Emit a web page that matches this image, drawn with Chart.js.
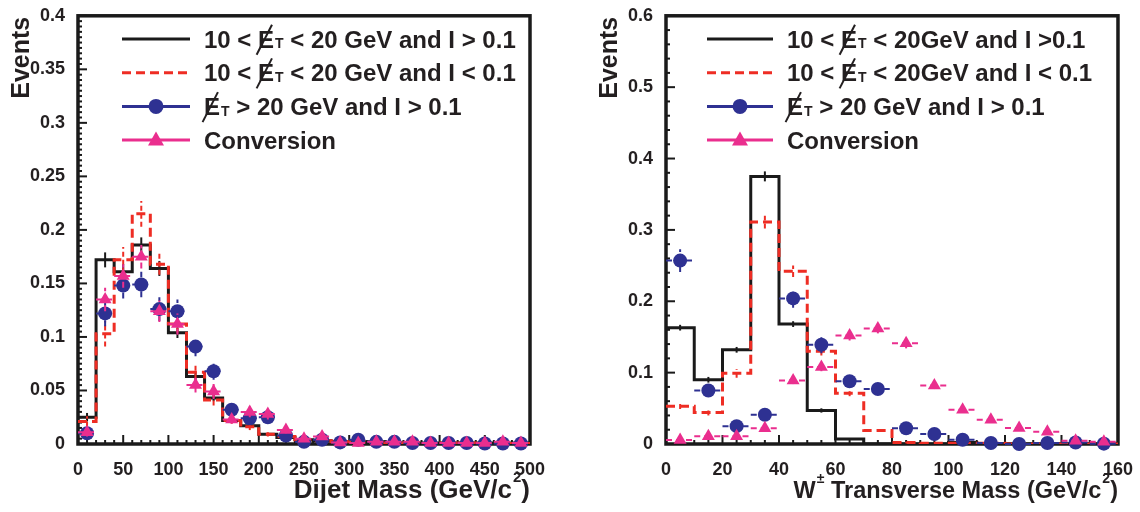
<!DOCTYPE html>
<html>
<head>
<meta charset="utf-8">
<script src="https://cdn.jsdelivr.net/npm/chart.js@4.4.1/dist/chart.umd.min.js"></script>
<style>
  body { margin: 0; background: #fff; width: 1140px; height: 512px; overflow: hidden; position: relative; }
  canvas { position: absolute; top: 0; }
  #dijetChart { left: 0; }
  #wmassChart { left: 570px; }
</style>
</head>
<body>
<canvas id="dijetChart" width="570" height="512"></canvas>
<canvas id="wmassChart" width="570" height="512"></canvas>
<script>
// ==================== DIJET MASS (20 GeV bins) ====================
const dijetEdges = [0, 20, 40, 60, 80, 100, 120, 140, 160, 180, 200, 220, 240, 260, 280, 300, 320, 340, 360, 380, 400, 420, 440, 460, 480, 500];
const dijetCenters = [10, 30, 50, 70, 90, 110, 130, 150, 170, 190, 210, 230, 250, 270, 290, 310, 330, 350, 370, 390, 410, 430, 450, 470, 490];

const dijetLowMetHiIso = [0.025, 0.172, 0.161, 0.186, 0.164, 0.104, 0.063, 0.043, 0.022, 0.017, 0.009, 0.006, 0.004, 0.003, 0.002, 0.002, 0.002, 0.001, 0.001, 0.001, 0.001, 0.001, 0.001, 0.001, 0.001];
const dijetLowMetHiIsoErr = [0.004, 0.007, 0.007, 0.007, 0.007, 0.005, 0.004, 0.003, 0.002, 0.002, 0.001, 0.001, 0.001, 0.001, 0.001, 0.001, 0.001, 0, 0, 0, 0, 0, 0, 0, 0];

const dijetLowMetLoIso = [0.021, 0.103, 0.172, 0.215, 0.168, 0.112, 0.067, 0.041, 0.022, 0.016, 0.009, 0.007, 0.004, 0.003, 0.002, 0.002, 0.001, 0.001, 0.001, 0.001, 0.001, 0.001, 0.0005, 0.0005, 0.0005];
const dijetLowMetLoIsoErr = [0.005, 0.012, 0.012, 0.012, 0.010, 0.008, 0.006, 0.005, 0.003, 0.003, 0.002, 0.002, 0.001, 0.001, 0.001, 0.001, 0.001, 0, 0, 0, 0, 0, 0, 0, 0];

const dijetHiMet = [0.010, 0.122, 0.148, 0.149, 0.126, 0.124, 0.091, 0.068, 0.032, 0.024, 0.025, 0.008, 0.002, 0.004, 0.0015, 0.004, 0.002, 0.002, 0.001, 0.001, 0.001, 0.001, 0.0005, 0.0005, 0.0005];
const dijetHiMetErr = [0.004, 0.012, 0.012, 0.012, 0.011, 0.011, 0.009, 0.008, 0.005, 0.005, 0.005, 0.003, 0.002, 0.002, 0.001, 0.002, 0.001, 0.001, 0.001, 0.001, 0.001, 0.001, 0.001, 0.001, 0.001];

const dijetConversion = [0.011, 0.135, 0.157, 0.175, 0.124, 0.112, 0.055, 0.049, 0.023, 0.030, 0.028, 0.013, 0.005, 0.007, 0.0015, 0.001, 0.002, 0.002, 0.002, 0.001, 0.001, 0.001, 0.001, 0.002, 0.001];
const dijetConversionErr = [0.004, 0.011, 0.011, 0.011, 0.010, 0.010, 0.007, 0.007, 0.004, 0.005, 0.005, 0.003, 0.002, 0.002, 0.001, 0.001, 0.001, 0.001, 0.001, 0.001, 0.001, 0.001, 0.001, 0.001, 0.001];

const dijetXTicks = [0, 50, 100, 150, 200, 250, 300, 350, 400, 450, 500];
const dijetYTicks = [0, 0.05, 0.1, 0.15, 0.2, 0.25, 0.3, 0.35, 0.4];

// ==================== W TRANSVERSE MASS (10 GeV bins) ====================
const wmEdges = [0, 10, 20, 30, 40, 50, 60, 70, 80, 90, 100, 110, 120, 130, 140, 150, 160];
const wmCenters = [5, 15, 25, 35, 45, 55, 65, 75, 85, 95, 105, 115, 125, 135, 145, 155];

const wmLowMetHiIso = [0.163, 0.090, 0.132, 0.375, 0.168, 0.047, 0.007, 0, 0, 0, 0.002, 0, 0, 0, 0, 0];
const wmLowMetHiIsoErr = [0.004, 0.004, 0.004, 0.007, 0.004, 0.003, 0.001, 0, 0, 0, 0, 0, 0, 0, 0, 0];

const wmLowMetLoIso = [0.053, 0.044, 0.099, 0.311, 0.242, 0.130, 0.071, 0.019, 0.002, 0.001, 0.001, 0.001, 0, 0, 0, 0];
const wmLowMetLoIsoErr = [0.004, 0.004, 0.006, 0.009, 0.008, 0.006, 0.004, 0.002, 0.001, 0, 0, 0, 0, 0, 0, 0];

const wmHiMet = [0.257, 0.075, 0.025, 0.041, 0.204, 0.139, 0.088, 0.077, 0.022, 0.014, 0.006, 0.0015, 0, 0.0015, 0.002, 0.0005];
const wmHiMetErr = [0.016, 0.008, 0.005, 0.006, 0.013, 0.012, 0.008, 0.007, 0.004, 0.003, 0.002, 0.001, 0.001, 0.001, 0.001, 0.001];

const wmConversion = [0.0055, 0.011, 0.011, 0.022, 0.089, 0.108, 0.152, 0.162, 0.141, 0.082, 0.048, 0.034, 0.0225, 0.017, 0.0045, 0.003];
const wmConversionErr = [0.002, 0.003, 0.003, 0.004, 0.005, 0.006, 0.007, 0.007, 0.007, 0.005, 0.004, 0.003, 0.003, 0.002, 0.002, 0.001];

const wmXTicks = [0, 20, 40, 60, 80, 100, 120, 140, 160];
const wmYTicks = [0, 0.1, 0.2, 0.3, 0.4, 0.5, 0.6];

// ==================== STYLE ====================
const FONT = '"Liberation Sans", Arial, Helvetica, sans-serif';
const INK = '#231f20';
const BLACK = '#1a1a1a';
const RED = '#ee2d24';
const BLUE = '#2e3192';
const PINK = '#ea2e8e';
const RED_DASH = [9, 5];
const LEGEND_SIZE = 24;

// histogram outline: one point per lower edge plus the closing edge
function histPoints(edges, vals) {
    return edges.map((e, i) => ({ x: e, y: vals[Math.min(i, vals.length - 1)] }));
}

function markerPoints(centers, vals) {
    return centers.map((c, i) => ({ x: c, y: vals[i] }));
}

function partFont(kind, size) {
    if (kind === 'sub') return `bold ${Math.round(size * 0.6)}px ${FONT}`;
    if (kind === 'sup') return `bold ${Math.round(size * 0.58)}px ${FONT}`;
    return `bold ${size}px ${FONT}`;
}

function richWidth(ctx, parts, size) {
    let w = 0;
    parts.forEach(([t, k]) => {
        ctx.font = partFont(k, size);
        w += ctx.measureText(t).width + (k === 'sub' || k === 'sup' ? 1 : 0);
    });
    return w;
}

// draws text made of pieces: plain, subscript, superscript, or E with a slash (missing ET)
function drawRich(ctx, x, baseY, parts, size) {
    let cx = x;
    parts.forEach(([txt, kind]) => {
        ctx.font = partFont(kind, size);
        if (kind === 'sub') {
            ctx.fillText(txt, cx + 1, baseY + size * 0.04);
            cx += ctx.measureText(txt).width + 1;
        } else if (kind === 'sup') {
            ctx.fillText(txt, cx + 1, baseY - size * 0.62);
            cx += ctx.measureText(txt).width + 1;
        } else {
            ctx.fillText(txt, cx, baseY);
            const w = ctx.measureText(txt).width;
            if (kind === 'met') {
                ctx.save();
                ctx.strokeStyle = ctx.fillStyle;
                ctx.lineWidth = 2;
                ctx.beginPath();
                ctx.moveTo(cx - size * 0.06, baseY + size * 0.3);
                ctx.lineTo(cx + size * 0.58, baseY - size * 0.95);
                ctx.stroke();
                ctx.restore();
            }
            cx += w;
        }
    });
}

function line(ctx, x1, y1, x2, y2) {
    ctx.beginPath();
    ctx.moveTo(x1, y1);
    ctx.lineTo(x2, y2);
    ctx.stroke();
}

// frame, inward ticks, error bars, legend and axis titles for one panel
function panelPlugin(cfg) {
    return {
        id: 'panelDecor',
        beforeDatasetsDraw(chart) {
            const { ctx, chartArea: a, scales: { x, y } } = chart;
            ctx.save();
            ctx.strokeStyle = BLACK;
            ctx.lineWidth = 2;
            for (let v = 0; v <= cfg.xMax + 1e-9; v += cfg.xMinor) {
                const major = Math.abs(v / cfg.xStep - Math.round(v / cfg.xStep)) < 1e-6;
                const px = x.getPixelForValue(v);
                line(ctx, px, a.bottom, px, a.bottom - (major ? 9 : 4));
            }
            for (let v = 0; v <= cfg.yMax + 1e-9; v += cfg.yMinor) {
                const major = Math.abs(v / cfg.yStep - Math.round(v / cfg.yStep)) < 1e-6;
                const py = y.getPixelForValue(v);
                line(ctx, a.left, py, a.left + (major ? 9 : 4), py);
            }
            ctx.lineWidth = 3.5;
            ctx.strokeRect(a.left, a.top, a.right - a.left, a.bottom - a.top);
            ctx.restore();
        },
        beforeDatasetDraw(chart, args) {
            const ds = chart.data.datasets[args.index];
            if (!ds.barErr) return;
            const { ctx, scales: { x, y } } = chart;
            ctx.save();
            ctx.strokeStyle = ds.borderColor;
            ctx.lineWidth = 2;
            ds.barX.forEach((c, i) => {
                const v = ds.barY[i];
                const e = ds.barErr[i];
                const px = x.getPixelForValue(c);
                const py = y.getPixelForValue(v);
                ctx.setLineDash(ds.barDash);
                if (e > 0) line(ctx, px, y.getPixelForValue(v - e), px, y.getPixelForValue(v + e));
                if (ds.barHalf) {
                    line(ctx, x.getPixelForValue(c - ds.barHalf), py, x.getPixelForValue(c + ds.barHalf), py);
                }
            });
            ctx.restore();
        },
        afterDraw(chart) {
            const { ctx, chartArea: a } = chart;
            ctx.save();
            ctx.fillStyle = INK;
            ctx.textBaseline = 'alphabetic';
            ctx.textAlign = 'left';

            // legend
            cfg.legend.forEach((row, i) => {
                const cy = cfg.legendTop + i * cfg.legendGap;
                ctx.save();
                ctx.strokeStyle = row.color;
                ctx.lineWidth = 3;
                ctx.setLineDash(row.dash || []);
                line(ctx, cfg.sampleX0, cy, cfg.sampleX1, cy);
                ctx.restore();
                const mx = (cfg.sampleX0 + cfg.sampleX1) / 2;
                ctx.save();
                ctx.fillStyle = row.color;
                if (row.marker === 'circle') {
                    ctx.beginPath();
                    ctx.arc(mx, cy, 7.5, 0, Math.PI * 2);
                    ctx.fill();
                } else if (row.marker === 'triangle') {
                    ctx.beginPath();
                    ctx.moveTo(mx, cy - 8.5);
                    ctx.lineTo(mx + 8, cy + 5.5);
                    ctx.lineTo(mx - 8, cy + 5.5);
                    ctx.closePath();
                    ctx.fill();
                }
                ctx.restore();
                drawRich(ctx, cfg.textX, cy + 8.5, row.text, LEGEND_SIZE);
            });

            // x title, right aligned to the frame
            const w = richWidth(ctx, cfg.xTitle, cfg.titleSize);
            drawRich(ctx, a.right - w, 498, cfg.xTitle, cfg.titleSize);

            // y title, rotated, flush with the top of the frame
            ctx.save();
            ctx.translate(cfg.yTitleX, a.top + 1);
            ctx.rotate(-Math.PI / 2);
            ctx.textAlign = 'right';
            ctx.textBaseline = 'middle';
            ctx.font = `bold 25px ${FONT}`;
            ctx.fillText('Events', 0, 0);
            ctx.restore();
            ctx.restore();
        }
    };
}

function histDataset(label, edges, centers, vals, errs, color, dash, order) {
    return {
        label, data: histPoints(edges, vals), borderColor: color, borderWidth: 3, borderDash: dash,
        stepped: true, pointRadius: 0, fill: false, order,
        barX: centers, barY: vals, barErr: errs, barDash: dash.length ? [5, 3] : [], barHalf: 0
    };
}

function markerDataset(label, centers, vals, errs, color, style, radius, half, order) {
    return {
        label, data: markerPoints(centers, vals), showLine: false, borderColor: color,
        backgroundColor: color, pointStyle: style, pointRadius: radius, pointBorderWidth: 0,
        order, clip: false,
        barX: centers, barY: vals, barErr: errs, barDash: [6, 4], barHalf: half
    };
}

function buildPanel(canvasId, p) {
    const tickFont = { family: FONT, size: 18, weight: 'bold' };
    return new Chart(document.getElementById(canvasId), {
        type: 'line',
        data: { datasets: p.datasets },
        options: {
            responsive: false,
            animation: false,
            devicePixelRatio: 1,
            layout: { padding: p.padding },
            plugins: { legend: { display: false }, tooltip: { enabled: false } },
            scales: {
                x: {
                    type: 'linear', min: 0, max: p.xMax,
                    afterBuildTicks: s => { s.ticks = p.xTicks.map(v => ({ value: v })); },
                    afterFit: s => { s.height = 68; },
                    grid: { display: false }, border: { display: false },
                    ticks: { font: tickFont, color: INK, padding: 7, maxRotation: 0, autoSkip: false }
                },
                y: {
                    min: 0, max: p.yMax,
                    afterBuildTicks: s => { s.ticks = p.yTicks.map(v => ({ value: v })); },
                    afterFit: s => { s.width = p.yWidth; },
                    grid: { display: false }, border: { display: false },
                    ticks: { font: tickFont, color: INK, padding: 5, callback: v => String(+v.toFixed(3)) }
                }
            }
        },
        plugins: [panelPlugin(p)]
    });
}

const metText = (pre, post) => pre ? [[pre, ''], ['E', 'met'], ['T', 'sub'], [post, '']] : [['E', 'met'], ['T', 'sub'], [post, '']];

buildPanel('dijetChart', {
    xMax: 500, xStep: 50, xMinor: 10, yMax: 0.4, yStep: 0.05, yMinor: 0.005,
    xTicks: dijetXTicks, yTicks: dijetYTicks,
    padding: { top: 11, right: 40, left: 0, bottom: 0 }, yWidth: 78, yTitleX: 22,
    legendTop: 39, legendGap: 33.7, sampleX0: 122, sampleX1: 190, textX: 204,
    titleSize: 26,
    legend: [
        { color: BLACK, text: metText('10 < ', ' < 20 GeV and I > 0.1') },
        { color: RED, dash: RED_DASH, text: metText('10 < ', ' < 20 GeV and I < 0.1') },
        { color: BLUE, marker: 'circle', text: metText('', ' > 20 GeV and I > 0.1') },
        { color: PINK, marker: 'triangle', text: [['Conversion', '']] }
    ],
    xTitle: [['Dijet Mass (GeV/c', ''], ['2', 'sup'], [')', '']],
    datasets: [
        markerDataset('Conversion', dijetCenters, dijetConversion, dijetConversionErr, PINK, 'triangle', 7.5, 10, 0),
        markerDataset('High MET', dijetCenters, dijetHiMet, dijetHiMetErr, BLUE, 'circle', 7, 10, 1),
        histDataset('Low MET, I < 0.1', dijetEdges, dijetCenters, dijetLowMetLoIso, dijetLowMetLoIsoErr, RED, RED_DASH, 2),
        histDataset('Low MET, I > 0.1', dijetEdges, dijetCenters, dijetLowMetHiIso, dijetLowMetHiIsoErr, BLACK, [], 3)
    ]
});

buildPanel('wmassChart', {
    xMax: 160, xStep: 20, xMinor: 5, yMax: 0.6, yStep: 0.1, yMinor: 0.02,
    xTicks: wmXTicks, yTicks: wmYTicks,
    padding: { top: 12, right: 22, left: 0, bottom: 0 }, yWidth: 96, yTitleX: 40,
    legendTop: 39, legendGap: 33.7, sampleX0: 137, sampleX1: 203, textX: 217,
    titleSize: 23.5,
    legend: [
        { color: BLACK, text: metText('10 < ', ' < 20GeV and I >0.1') },
        { color: RED, dash: RED_DASH, text: metText('10 < ', ' < 20GeV and I < 0.1') },
        { color: BLUE, marker: 'circle', text: metText('', ' > 20 GeV and I > 0.1') },
        { color: PINK, marker: 'triangle', text: [['Conversion', '']] }
    ],
    xTitle: [['W', ''], ['±', 'sup'], [' Transverse Mass (GeV/c', ''], ['2', 'sup'], [')', '']],
    datasets: [
        markerDataset('Conversion', wmCenters, wmConversion, wmConversionErr, PINK, 'triangle', 7.5, 5, 0),
        markerDataset('High MET', wmCenters, wmHiMet, wmHiMetErr, BLUE, 'circle', 7, 5, 1),
        histDataset('Low MET, I < 0.1', wmEdges, wmCenters, wmLowMetLoIso, wmLowMetLoIsoErr, RED, RED_DASH, 2),
        histDataset('Low MET, I > 0.1', wmEdges, wmCenters, wmLowMetHiIso, wmLowMetHiIsoErr, BLACK, [], 3)
    ]
});
</script>
</body>
</html>
